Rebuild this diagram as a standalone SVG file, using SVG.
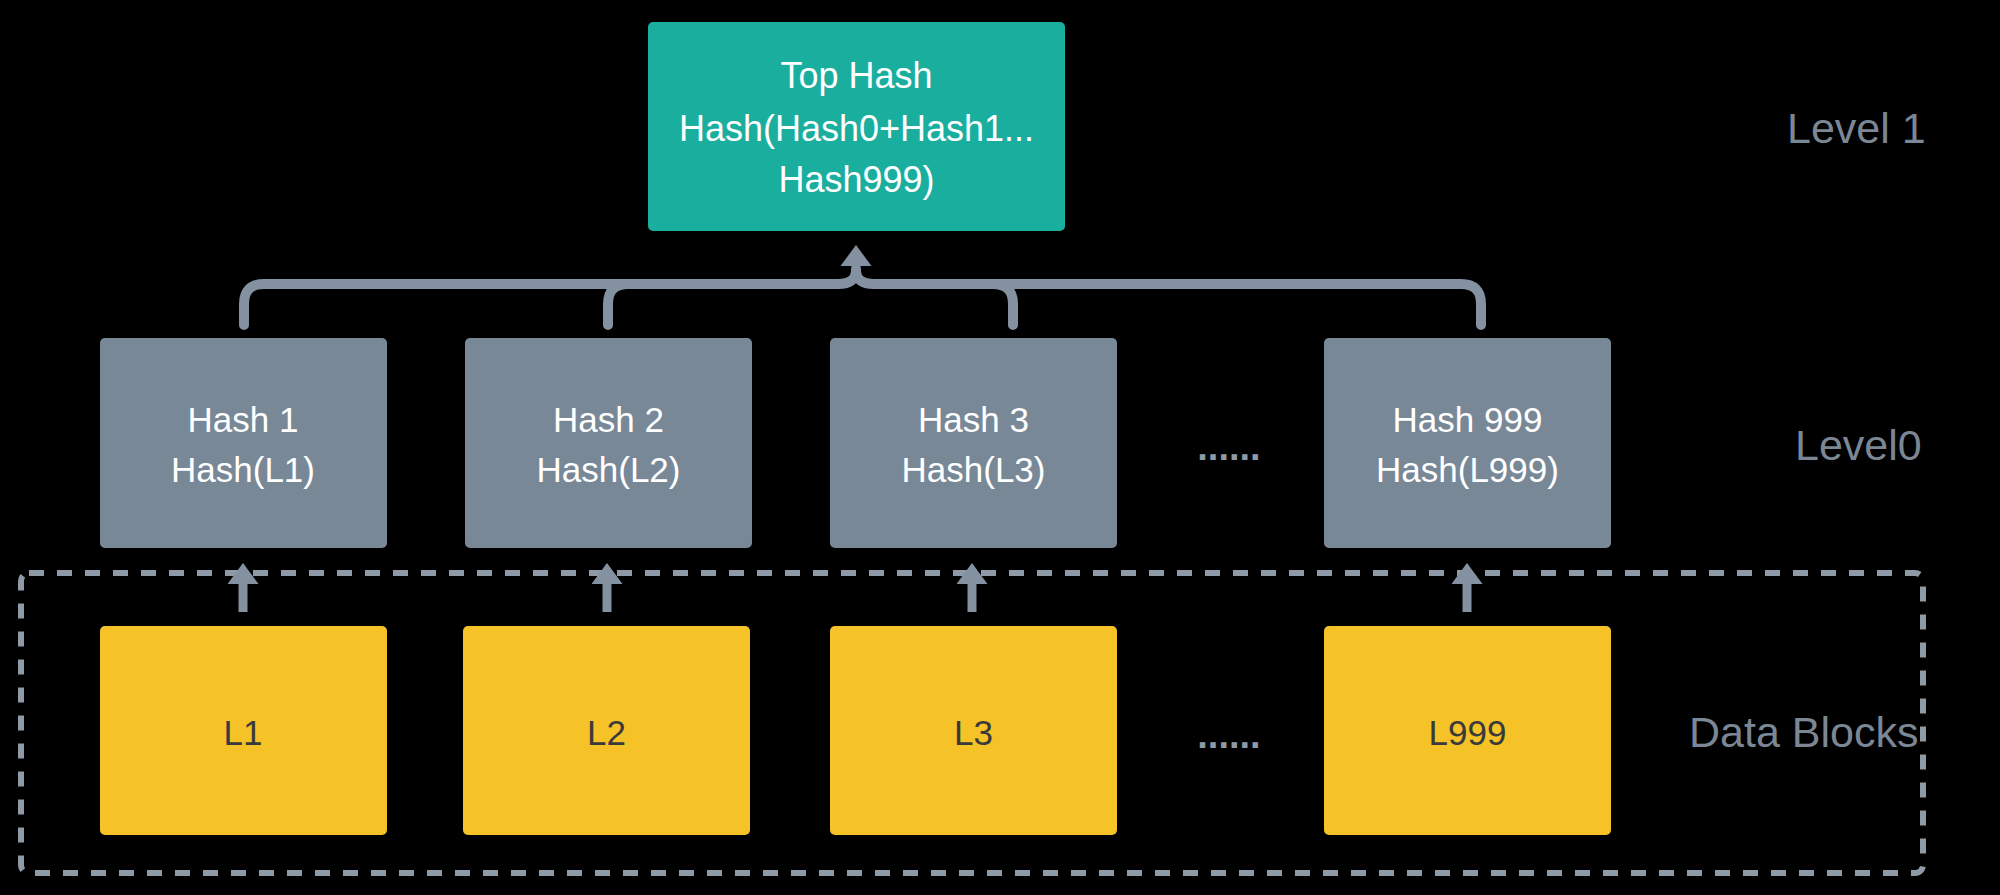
<svg xmlns="http://www.w3.org/2000/svg" width="2000" height="895" viewBox="0 0 2000 895">
<style>
.txt{font-family:"Liberation Sans",Arial,sans-serif;text-anchor:middle}
.w{fill:#ffffff;font-size:35px}
.top{fill:#ffffff;font-size:36px}
.dk{fill:#3a3a3a;font-size:35px}
.lvl{font-family:"Liberation Sans",Arial,sans-serif;fill:#7b8795;font-size:43px}
.dots{font-family:"Liberation Sans",Arial,sans-serif;fill:#8e9aa6;font-size:38px;font-weight:bold;text-anchor:middle}
.hash{fill:#788897}
.leaf{fill:#f5c328}
.conn{fill:none;stroke:#8491a0;stroke-width:10;stroke-linecap:round;stroke-linejoin:round}
.stem{fill:none;stroke:#8491a0;stroke-width:9}
</style>
<defs>
<marker id="ah" viewBox="0 0 21 31" refX="0" refY="15.5" markerWidth="21" markerHeight="31" markerUnits="userSpaceOnUse" orient="auto">
<path d="M0,0 L21,15.5 L0,31 Z" fill="#8491a0"/>
</marker>
</defs>
<rect x="0" y="0" width="2000" height="895" fill="#000000"/>

<g id="data-blocks-frame">
<rect x="21" y="573" width="1902" height="300" rx="8" fill="none" stroke="#8e9aa6" stroke-width="6" stroke-dasharray="15 13"/>
</g>

<g id="connectors">
<path class="conn" d="M244 325 V304 Q244 284 264 284 H838 Q856 284 856 270"/>
<path class="conn" d="M1481 325 V304 Q1481 284 1461 284 H874 Q856 284 856 270"/>
<path class="conn" d="M608 325 V304 Q608 284 628 284"/>
<path class="conn" d="M1013 325 V304 Q1013 284 993 284"/>
<line class="stem" x1="856" y1="280" x2="856" y2="266" marker-end="url(#ah)"/>
<line class="stem" x1="243" y1="612" x2="243" y2="584" marker-end="url(#ah)"/>
<line class="stem" x1="607" y1="612" x2="607" y2="584" marker-end="url(#ah)"/>
<line class="stem" x1="972" y1="612" x2="972" y2="584" marker-end="url(#ah)"/>
<line class="stem" x1="1467" y1="612" x2="1467" y2="584" marker-end="url(#ah)"/>
</g>

<g id="top-hash">
<rect x="648" y="22" width="417" height="209" rx="5" fill="#1aae9f"/>
<text class="txt top" x="856.5" y="88">Top Hash</text>
<text class="txt top" x="856.5" y="141">Hash(Hash0+Hash1...</text>
<text class="txt top" x="856.5" y="192">Hash999)</text>
</g>

<g id="hash1">
<rect class="hash" x="100" y="338" width="287" height="210" rx="5"/>
<text class="txt w" x="243" y="432">Hash 1</text>
<text class="txt w" x="243" y="482">Hash(L1)</text>
</g>
<g id="hash2">
<rect class="hash" x="465" y="338" width="287" height="210" rx="5"/>
<text class="txt w" x="608.5" y="432">Hash 2</text>
<text class="txt w" x="608.5" y="482">Hash(L2)</text>
</g>
<g id="hash3">
<rect class="hash" x="830" y="338" width="287" height="210" rx="5"/>
<text class="txt w" x="973.5" y="432">Hash 3</text>
<text class="txt w" x="973.5" y="482">Hash(L3)</text>
</g>
<g id="hash999">
<rect class="hash" x="1324" y="338" width="287" height="210" rx="5"/>
<text class="txt w" x="1467.5" y="432">Hash 999</text>
<text class="txt w" x="1467.5" y="482">Hash(L999)</text>
</g>

<g id="l1">
<rect class="leaf" x="100" y="626" width="287" height="209" rx="5"/>
<text class="txt dk" x="243" y="745">L1</text>
</g>
<g id="l2">
<rect class="leaf" x="463" y="626" width="287" height="209" rx="5"/>
<text class="txt dk" x="606.5" y="745">L2</text>
</g>
<g id="l3">
<rect class="leaf" x="830" y="626" width="287" height="209" rx="5"/>
<text class="txt dk" x="973.5" y="745">L3</text>
</g>
<g id="l999">
<rect class="leaf" x="1324" y="626" width="287" height="209" rx="5"/>
<text class="txt dk" x="1467.5" y="745">L999</text>
</g>

<g id="ellipsis-hash"><text class="dots" x="1229" y="460">......</text></g>
<g id="ellipsis-data"><text class="dots" x="1229" y="748">......</text></g>

<g id="labels">
<text class="lvl" x="1787" y="143">Level 1</text>
<text class="lvl" x="1795" y="460">Level0</text>
<text class="lvl" x="1689" y="747">Data Blocks</text>
</g>
</svg>
